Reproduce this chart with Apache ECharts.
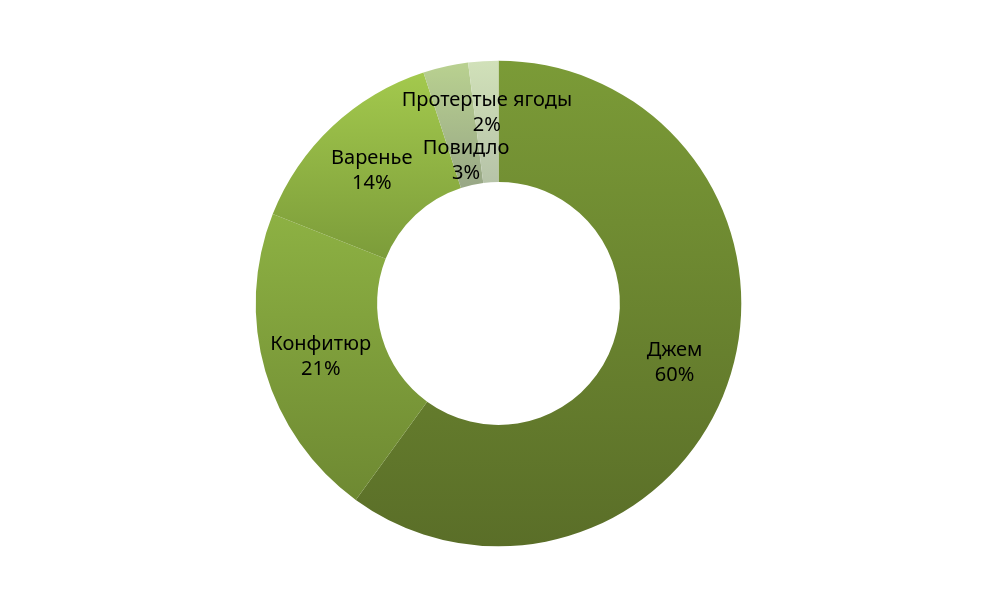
<!DOCTYPE html>
<html><head><meta charset="utf-8">
<script src="https://cdn.jsdelivr.net/npm/echarts@6/dist/echarts.min.js"></script>
<style>html,body{margin:0;padding:0;background:#fff}#c{width:997px;height:607px}</style>
</head><body><div id="c"></div>
<script>
const categories = ['Джем', 'Конфитюр', 'Варенье', 'Повидло', 'Протертые ягоды'];
const values = [60, 21, 14, 3, 2];

const gradients = [
  ['#7b9b37', '#5a6e28'],
  ['#8db143', '#6e8932'],
  ['#a3c94d', '#7c9c3a'],
  ['#b9d190', '#98a786'],
  ['#d1e1b9', '#b6c3a8']
];
const labelShift = {3: [8, 36], 4: [0, -8]};

const chart = echarts.init(document.getElementById('c'));
chart.setOption({
  animation: false,
  series: [{
    type: 'pie',
    center: ['50%', '50%'],
    radius: ['40%', '80%'],
    startAngle: 90,
    data: categories.map((n, i) => ({
      name: n, value: values[i],
      itemStyle: {
        color: new echarts.graphic.LinearGradient(0, 0, 0, 1, [
          {offset: 0, color: gradients[i][0]},
          {offset: 1, color: gradients[i][1]}
        ])
      }
    })),
    itemStyle: {borderWidth: 0},
    emphasis: {disabled: true},
    label: {
      show: true,
      position: 'inside',
      formatter: p => p.name + '\n' + Math.round(p.percent) + '%',
      color: '#000',
      fontFamily: 'Noto Sans',
      fontSize: 20,
      lineHeight: 25,
      align: 'center'
    },
    labelLine: {show: false},
    labelLayout: function (p) {
      const s = labelShift[p.dataIndex];
      return s ? {dx: s[0], dy: s[1] + 2} : {dy: 2};
    }
  }]
});
</script></body></html>
